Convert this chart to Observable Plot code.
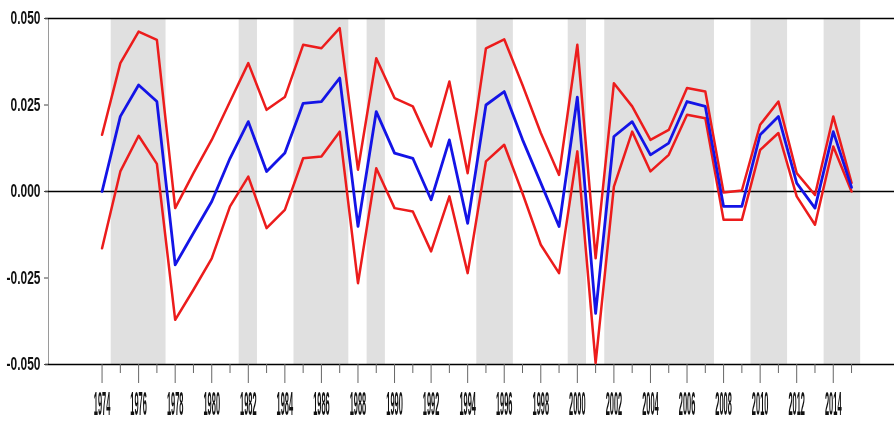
<!DOCTYPE html>
<html><head><meta charset="utf-8">
<script src="https://cdn.jsdelivr.net/npm/d3@7"></script>
<script src="https://cdn.jsdelivr.net/npm/@observablehq/plot@0.6"></script>
<style>body{margin:0;background:#fff} svg{display:block}</style>
</head><body><div id="chart"></div>
<script>
const years = [1974,1975,1976,1977,1978,1979,1980,1981,1982,1983,1984,1985,1986,1987,1988,1989,1990,1991,1992,1993,1994,1995,1996,1997,1998,1999,2000,2001,2002,2003,2004,2005,2006,2007,2008,2009,2010,2011,2012,2013,2014,2015];
const center = [0.0000,0.0217,0.0308,0.0260,-0.0212,-0.0120,-0.0029,0.0096,0.0202,0.0058,0.0111,0.0255,0.0260,0.0328,-0.0101,0.0231,0.0111,0.0096,-0.0024,0.0149,-0.0092,0.0250,0.0289,0.0150,0.0025,-0.0101,0.0273,-0.0352,0.0159,0.0202,0.0106,0.0140,0.0260,0.0246,-0.0043,-0.0043,0.0164,0.0217,0.0024,-0.0048,0.0173,0.0012];
const upper = [0.0164,0.0371,0.0462,0.0438,-0.0048,0.0053,0.0149,0.0260,0.0371,0.0236,0.0273,0.0424,0.0414,0.0472,0.0063,0.0385,0.0270,0.0246,0.0130,0.0318,0.0053,0.0414,0.0440,0.0308,0.0169,0.0048,0.0424,-0.0193,0.0313,0.0246,0.0149,0.0178,0.0299,0.0289,-0.0003,0.0003,0.0193,0.0260,0.0053,-0.0010,0.0217,0.0025];
const lower = [-0.0164,0.0058,0.0161,0.0080,-0.0371,-0.0284,-0.0193,-0.0043,0.0043,-0.0106,-0.0053,0.0096,0.0101,0.0173,-0.0265,0.0067,-0.0048,-0.0058,-0.0173,-0.0014,-0.0236,0.0087,0.0135,-0.0005,-0.0154,-0.0236,0.0116,-0.0496,0.0014,0.0173,0.0058,0.0106,0.0222,0.0212,-0.0082,-0.0082,0.0120,0.0169,-0.0014,-0.0096,0.0130,0.0000];
const shadeStart = [1975,1982,1985,1989,1995,2000,2002,2010,2014];
const shadeEnd   = [1977,1982,1987,1989,1996,2000,2007,2011,2015];
const yTicks = [-0.05,-0.025,0,0.025,0.05];
const yTickLabels = ["-0.050","-0.025","0.000","0.025","0.050"];
const xLabelYears = [1974,1976,1978,1980,1982,1984,1986,1988,1990,1992,1994,1996,1998,2000,2002,2004,2006,2008,2010,2012,2014];
const xMinorYears = [1975,1977,1979,1981,1983,1985,1987,1989,1991,1993,1995,1997,1999,2001,2003,2005,2007,2009,2011,2013,2015];
const xDomain = [1971.07, 2017.35];
const yDomain = [-0.05, 0.05];

const rows = years.map((y,i)=>({year:y, center:center[i], upper:upper[i], lower:lower[i]}));
const bands = shadeStart.map((s,i)=>({start:s, end:shadeEnd[i]}));

const chart = Plot.plot({
  width: 894, height: 421,
  marginLeft: 48, marginRight: 0, marginTop: 18, marginBottom: 57,
  x: {domain: xDomain},
  y: {domain: yDomain},
  style: {fontFamily: "Liberation Sans, Arial, sans-serif", background: "#fff"},
  marks: [
    Plot.rect(bands, {x1: d=>d.start-0.5, x2: d=>d.end+0.5, y1: ()=>yDomain[0], y2: ()=>yDomain[1], fill: "#e0e0e0"}),
    Plot.frame({anchor: "left", stroke: "#9a9a9a", strokeWidth: 1}),
    Plot.ruleY(yTicks.filter((d,i)=>i%2===0), {stroke: "#000", strokeWidth: 1.6, insetLeft: -3}),
    Plot.line(rows, {x: "year", y: "upper", stroke: "#ec1c1c", strokeWidth: 2.5}),
    Plot.line(rows, {x: "year", y: "lower", stroke: "#ec1c1c", strokeWidth: 2.5}),
    Plot.line(rows, {x: "year", y: "center", stroke: "#1414e6", strokeWidth: 2.8}),
    Plot.axisY(yTicks, {tickSize: 4, tickPadding: 4, label: null, stroke: "#444",
      tickFormat: d => yTickLabels[yTicks.indexOf(d)], fontSize: 12, fontWeight: "bold", fill: "#111"}),
    Plot.axisX(xLabelYears, {tickSize: 19, tickPadding: 8, label: null, stroke: "#666",
      tickFormat: d => String(d), fontSize: 12, fontWeight: "bold", fill: "#111"}),
    Plot.axisX(xMinorYears, {tickSize: 9, label: null, stroke: "#666", tickFormat: () => ""})
  ]
});
document.getElementById("chart").appendChild(chart);
const svg = d3.select(chart);
svg.selectAll('g[aria-label="y-axis tick label"], g[aria-label="x-axis tick label"]')
  .style("filter", "grayscale(1)");
svg.selectAll('g[aria-label="y-axis tick label"] text').each(function(){
  const t = this.getAttribute("transform") || "";
  this.setAttribute("transform", t + " scale(1.0,1.5)");
});
svg.selectAll('g[aria-label="x-axis tick label"] text').each(function(){
  const t = this.getAttribute("transform") || "";
  this.setAttribute("transform", t + " scale(0.62,2.7)");
});
</script>
</body></html>
